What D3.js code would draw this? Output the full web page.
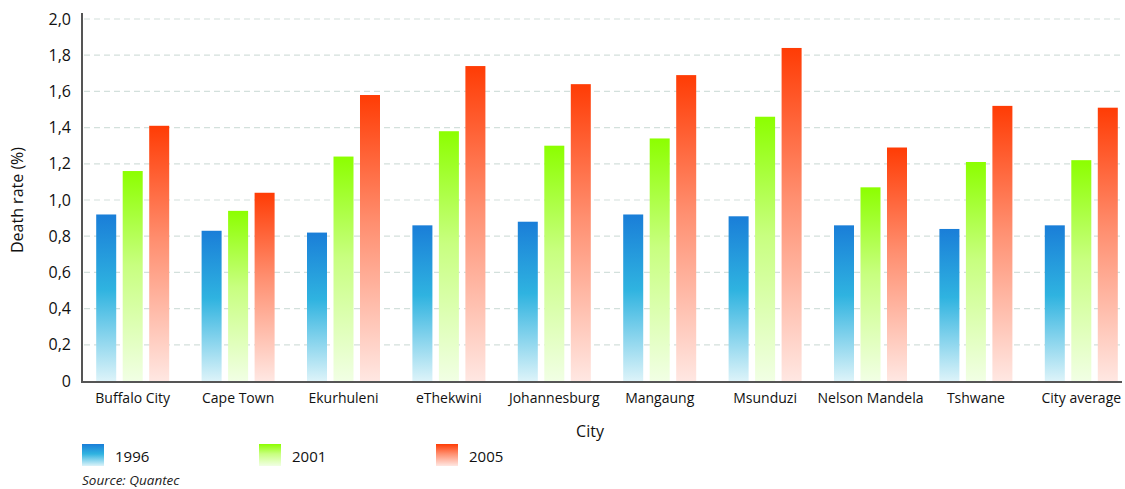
<!DOCTYPE html>
<html><head><meta charset="utf-8">
<script src="https://cdn.jsdelivr.net/npm/d3@7"></script>
<style>body{margin:0;background:#fff;} svg{display:block;font-family:"Open Sans","Noto Sans",sans-serif;}</style>
</head><body>
<svg id="c" width="1125" height="489"></svg>
<script>
const cities = ["Buffalo City","Cape Town","Ekurhuleni","eThekwini","Johannesburg","Mangaung","Msunduzi","Nelson Mandela","Tshwane","City average"];
const years = ["1996","2001","2005"];
const v1996 = [0.92,0.83,0.82,0.86,0.88,0.92,0.91,0.86,0.84,0.86];
const v2001 = [1.16,0.94,1.24,1.38,1.30,1.34,1.46,1.07,1.21,1.22];
const v2005 = [1.41,1.04,1.58,1.74,1.64,1.69,1.84,1.29,1.52,1.51];
const yTicks = [0,0.2,0.4,0.6,0.8,1.0,1.2,1.4,1.6,1.8,2.0];
const series = [v1996, v2001, v2005];
const grads = [["#1a7ed8","#2fb3e0","#dcf3f9"],["#8cff00","#c8ff80","#f1ffe4"],["#ff3c05","#ff8f70","#ffe7e2"]];

const svg = d3.select("#c");
const defs = svg.append("defs");
grads.forEach((g,i)=>{
  const lg = defs.append("linearGradient").attr("id","g"+i).attr("x1",0).attr("y1",0).attr("x2",0).attr("y2",1);
  lg.append("stop").attr("offset","0%").attr("stop-color",g[0]);
  lg.append("stop").attr("offset","45%").attr("stop-color",g[1]);
  lg.append("stop").attr("offset","100%").attr("stop-color",g[2]);
});

const y = d3.scaleLinear().domain([0,2]).range([381,19]);
const x0 = d3.scaleBand().domain(cities).range([80,1134]);
const x1 = d3.scaleBand().domain(years).range([0,73]).paddingInner(0.245);
const xLeft = 82, xRight = 1122;

// grid
svg.append("g").selectAll("line").data(yTicks.filter(d=>d>0)).join("line")
  .attr("x1",xLeft+2).attr("x2",xRight).attr("y1",d=>y(d)).attr("y2",d=>y(d))
  .attr("stroke","#d3e0dc").attr("stroke-width",1.2).attr("stroke-dasharray","6,4");

// bars
const gBars = svg.append("g");
cities.forEach((c,ci)=>{
  const gx = x0(c) + x0.bandwidth()/2 - 36.5;
  series.forEach((s,si)=>{
    gBars.append("rect")
      .attr("x", gx + x1(years[si]))
      .attr("y", y(s[ci]))
      .attr("width", x1.bandwidth())
      .attr("height", y(0)-y(s[ci]))
      .attr("fill","url(#g"+si+")");
  });
});

// y axis
const yAxis = d3.axisLeft(y).tickValues(yTicks).tickSize(0).tickPadding(11)
  .tickFormat(d=> d===0 ? "0" : d3.format(".1f")(d).replace(".",","));
const ya = svg.append("g").attr("transform",`translate(${xLeft},0)`).call(yAxis);
ya.select(".domain").remove();
ya.selectAll("text").attr("font-size",16).attr("fill","#111").attr("font-family","'Open Sans',sans-serif");
svg.append("line").attr("x1",xLeft).attr("x2",xLeft).attr("y1",13).attr("y2",382).attr("stroke","#555").attr("stroke-width",2);

// x axis
const xAxis = d3.axisBottom(x0).tickSize(0).tickPadding(12);
const xa = svg.append("g").attr("transform",`translate(0,${y(0)})`).call(xAxis);
xa.select(".domain").remove();
xa.selectAll("text").attr("font-size",14).attr("fill","#111").attr("font-family","'Open Sans',sans-serif");
svg.append("line").attr("x1",xLeft-1).attr("x2",xRight).attr("y1",382).attr("y2",382).attr("stroke","#555").attr("stroke-width",2);

// titles
svg.append("text").attr("transform","translate(23,200) rotate(-90)").attr("text-anchor","middle")
  .attr("font-size",16).attr("fill","#111").text("Death rate (%)");
svg.append("text").attr("x",590).attr("y",437).attr("text-anchor","middle")
  .attr("font-size",16).attr("fill","#111").text("City");

// legend
const legX = [82,259,436];
years.forEach((yr,i)=>{
  svg.append("rect").attr("x",legX[i]).attr("y",444).attr("width",22).attr("height",22).attr("fill","url(#g"+i+")");
  svg.append("text").attr("x",legX[i]+33).attr("y",462).attr("font-size",15).attr("fill","#111").text(yr);
});
svg.append("text").attr("x",82).attr("y",485).attr("font-size",13.5).attr("font-style","italic").attr("fill","#222").text("Source: Quantec");
</script>
</body></html>
